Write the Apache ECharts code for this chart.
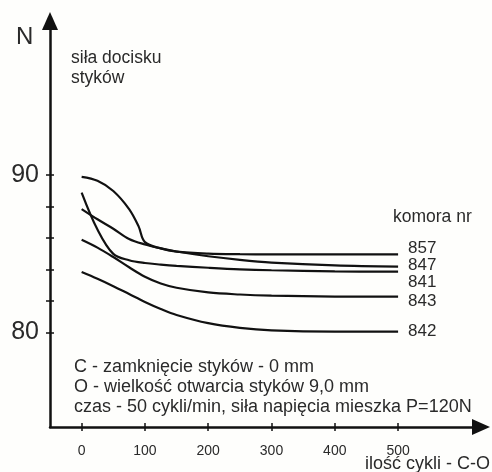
<!DOCTYPE html>
<html>
<head>
<meta charset="utf-8">
<script src="https://cdn.jsdelivr.net/npm/echarts@6/dist/echarts.min.js"></script>
<style>
  html, body { margin: 0; padding: 0; background: #fefefc; }
  #chart { width: 492px; height: 472px; }
</style>
</head>
<body>
<div id="chart"></div>
<script>
// cycles C-O (x) and contact force in N for each chamber
const cycles = [0, 25, 50, 75, 100, 125, 150, 200, 250, 300, 400, 500]
const cycles857 = [0, 25, 50, 75, 90, 100, 125, 150, 200, 250, 300, 400, 500]
const k857 = [89.9, 89.65, 89.0, 87.85, 86.75, 85.75, 85.35, 85.15, 85.02, 84.98, 84.97, 84.97, 84.97]
const k847 = [87.85, 87.2, 86.6, 85.95, 85.6, 85.35, 85.15, 84.85, 84.62, 84.45, 84.27, 84.19]
const k841 = [88.9, 86.55, 85.0, 84.6, 84.42, 84.32, 84.24, 84.12, 84.02, 83.96, 83.89, 83.87]
const k843 = [85.9, 85.4, 84.8, 84.15, 83.55, 83.12, 82.85, 82.55, 82.42, 82.35, 82.29, 82.28]
const k842 = [83.85, 83.42, 82.95, 82.45, 81.95, 81.5, 81.12, 80.6, 80.3, 80.14, 80.06, 80.06]

const chambers = ['857', '847', '841', '843', '842']
const xTicks = [0, 100, 200, 300, 400, 500]
const yTicks = [80, 82, 84, 86, 88, 90]
const yLabels = [80, 90]

const notes = [
  'C - zamknięcie styków - 0 mm',
  'O - wielkość otwarcia styków 9,0 mm',
  'czas - 50 cykli/min, siła napięcia mieszka P=120N'
]

const ink = '#111'
const textColor = '#2a2a2a'
const font = '"Liberation Sans", Arial, sans-serif'

const xs = [cycles857, cycles, cycles, cycles, cycles]
const values = [k857, k847, k841, k843, k842]
// vertical shift of the end labels so they do not overlap
const labelShift = [-6, -1, 11, 5, 0]

const series = chambers.map((name, i) => ({
  type: 'line',
  name: name,
  xAxisIndex: 0,
  yAxisIndex: 0,
  data: xs[i].map((c, j) => [c, values[i][j]]),
  symbol: 'none',
  smooth: 0.35,
  lineStyle: { color: ink, width: 2.2 },
  endLabel: {
    show: true,
    formatter: name,
    distance: 10,
    offset: [0, labelShift[i]],
    fontSize: 17,
    fontFamily: font,
    color: textColor
  },
  silent: true
}))

const axisCommonX = { type: 'value', min: -50, max: 631, position: 'bottom', splitLine: { show: false } }
const axisCommonY = { type: 'value', min: 74, max: 99.8, position: 'left', splitLine: { show: false } }

const chart = echarts.init(document.getElementById('chart'))
chart.setOption({
  backgroundColor: '#fefefc',
  animation: false,
  grid: { left: 50, right: 11, top: 21, bottom: 45 },
  xAxis: [
    Object.assign({}, axisCommonX, {
      axisLine: {
        show: true,
        onZero: false,
        symbol: ['none', 'triangle'],
        symbolSize: [16, 18],
        lineStyle: { color: ink, width: 2.5 }
      },
      axisTick: { show: true, customValues: xTicks, length: 4, lineStyle: { color: ink, width: 1.5 } },
      axisLabel: { customValues: xTicks, fontSize: 14, margin: 17, color: textColor, fontFamily: font }
    }),
    Object.assign({}, axisCommonX, {
      axisLine: { show: false, onZero: false },
      axisTick: { show: true, inside: true, customValues: xTicks, length: 4, lineStyle: { color: ink, width: 1.5 } },
      axisLabel: { show: false }
    })
  ],
  yAxis: [
    Object.assign({}, axisCommonY, {
      axisLine: {
        show: true,
        onZero: false,
        symbol: ['none', 'triangle'],
        symbolSize: [16, 18],
        lineStyle: { color: ink, width: 2.5 }
      },
      axisTick: { show: true, customValues: yTicks, length: 4, lineStyle: { color: ink, width: 1.5 } },
      axisLabel: { customValues: yLabels, fontSize: 25, margin: 11, color: textColor, fontFamily: font }
    }),
    Object.assign({}, axisCommonY, {
      axisLine: { show: false, onZero: false },
      axisTick: { show: true, inside: true, customValues: yTicks, length: 4, lineStyle: { color: ink, width: 1.5 } },
      axisLabel: { show: false }
    })
  ],
  graphic: [
    { type: 'text', left: 16, top: 25, style: { text: 'N', fontSize: 24, fill: textColor, fontFamily: font } },
    { type: 'text', left: 71, top: 48, style: { text: 'siła docisku\nstyków', fontSize: 17.5, lineHeight: 20, fill: textColor, fontFamily: font } },
    { type: 'text', left: 393, top: 208, style: { text: 'komora nr', fontSize: 17.5, fill: textColor, fontFamily: font } },
    { type: 'text', left: 74, top: 357, style: { text: notes.join('\n'), fontSize: 18, lineHeight: 20, fill: textColor, fontFamily: font } },
    { type: 'text', right: 2, top: 455, style: { text: 'ilość cykli - C-O', fontSize: 18, fill: textColor, fontFamily: font } }
  ],
  series: series
})
</script>
</body>
</html>
